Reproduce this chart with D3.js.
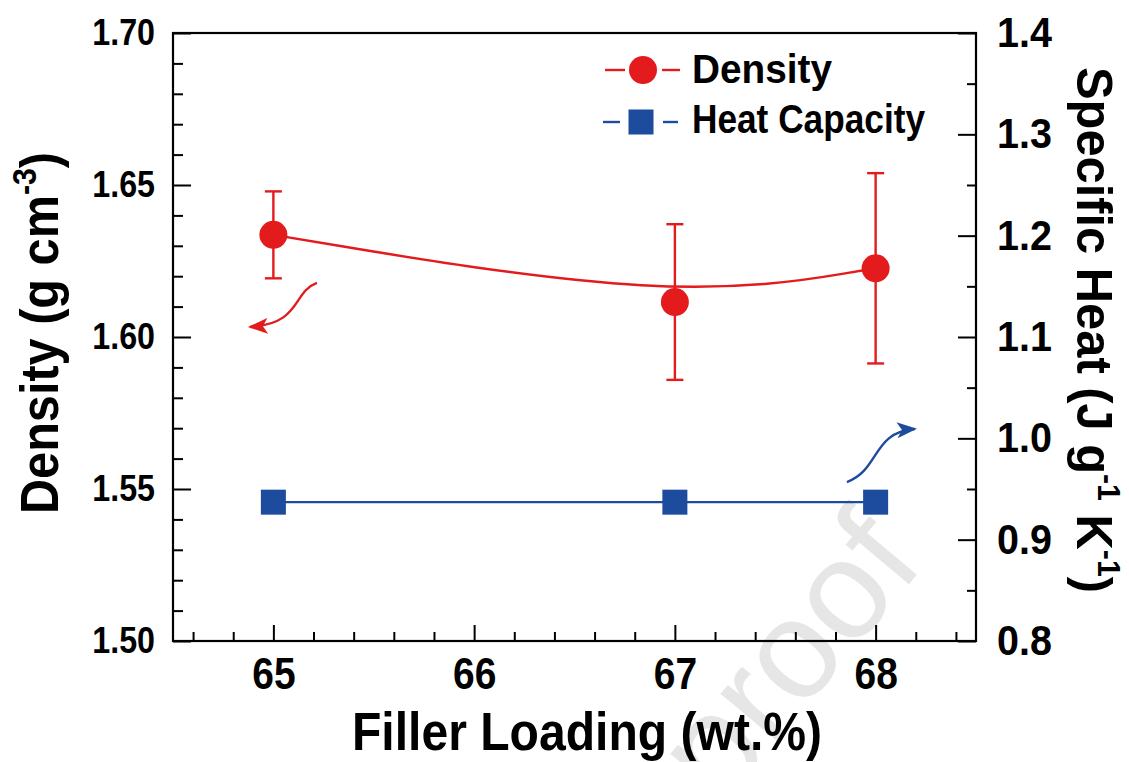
<!DOCTYPE html>
<html>
<head>
<meta charset="utf-8">
<script src="https://cdn.jsdelivr.net/npm/d3@7"></script>
<style>
  html, body { margin: 0; padding: 0; background: #fff; }
  svg { display: block; font-family: "Liberation Sans", Arial, Helvetica, sans-serif; }
</style>
</head>
<body>
<svg id="chart" width="1129" height="762"></svg>
<script>
// Filler loading (wt.%) of the three measured compositions
const fillerLoading = [65, 67, 68];
// Density (g cm^-3) with its standard deviation
const density = [1.6336, 1.6115, 1.6226];
const densityErr = [0.0143, 0.0256, 0.0313];
// Specific heat (J g^-1 K^-1)
const heatCapacity = [0.937, 0.937, 0.937];

// Axis ticks
const xMajorTicks = [65, 66, 67, 68];
const yLeftTicks = [1.50, 1.55, 1.60, 1.65, 1.70];
const yRightTicks = [0.8, 0.9, 1.0, 1.1, 1.2, 1.3, 1.4];

// Curved pointer arrows (cubic Bézier control points, in data units)
const densityArrow = [[65.217, 1.6178], [65.093, 1.6148], [65.142, 1.6043], [64.883, 1.6033]];
const heatArrow = [[67.857, 0.9569], [68.022, 0.9688], [67.982, 1.0063], [68.196, 1.0092]];

const RED = "#e31b1d";
const BLUE = "#1d4c9e";

const svg = d3.select("#chart");
const plotLeft = 173, plotRight = 976, plotTop = 33, plotBottom = 641;

const x = d3.scaleLinear().domain([64.5, 68.5]).range([plotLeft, plotRight]);
const yL = d3.scaleLinear().domain([1.50, 1.70]).range([plotBottom, plotTop]);
const yR = d3.scaleLinear().domain([0.8, 1.4]).range([plotBottom, plotTop]);

// Horizontal compression of the bold lettering
function squeeze(sel, f) {
  sel.each(function () {
    const w = this.getComputedTextLength();
    this.setAttribute("textLength", (w * f).toFixed(1));
    this.setAttribute("lengthAdjust", "spacingAndGlyphs");
  });
}
function fitTo(sel, width) {
  sel.attr("textLength", width).attr("lengthAdjust", "spacingAndGlyphs");
}

// Faint diagonal watermark behind everything
svg.append("text")
  .attr("transform", "translate(926,564) rotate(-50)")
  .attr("text-anchor", "end")
  .attr("font-size", 140)
  .attr("fill", "#e6e6e6")
  .text("proof");

// Minor ticks
const xMinor = d3.range(64.6, 68.41, 0.2).filter(v => Math.abs(v - Math.round(v)) > 0.01);
const yLMinor = d3.range(1.50, 1.7001, 0.01).filter(v => Math.abs(v * 20 - Math.round(v * 20)) > 0.01);
const yRMinor = d3.range(0.8, 1.4001, 0.05).filter(v => Math.abs(v * 10 - Math.round(v * 10)) > 0.01);

function noDomain(g) { g.select(".domain").remove(); }

svg.append("g").attr("transform", `translate(0,${plotBottom})`)
  .call(d3.axisBottom(x).tickValues(xMinor).tickSize(-9).tickFormat(""))
  .call(noDomain);
svg.append("g").attr("transform", `translate(${plotLeft},0)`)
  .call(d3.axisLeft(yL).tickValues(yLMinor).tickSize(-10).tickFormat(""))
  .call(noDomain);
svg.append("g").attr("transform", `translate(${plotRight},0)`)
  .call(d3.axisRight(yR).tickValues(yRMinor).tickSize(-9).tickFormat(""))
  .call(noDomain);

// Major ticks with labels
const gx = svg.append("g").attr("transform", `translate(0,${plotBottom})`)
  .call(d3.axisBottom(x).tickValues(xMajorTicks).tickSize(-16).tickPadding(17).tickFormat(d3.format("d")))
  .call(noDomain);
const gyl = svg.append("g").attr("transform", `translate(${plotLeft},0)`)
  .call(d3.axisLeft(yL).tickValues(yLeftTicks).tickSize(-18).tickPadding(18).tickFormat(d3.format(".2f")))
  .call(noDomain);
const gyr = svg.append("g").attr("transform", `translate(${plotRight},0)`)
  .call(d3.axisRight(yR).tickValues(yRightTicks).tickSize(-18).tickPadding(21).tickFormat(d3.format(".1f")))
  .call(noDomain);

svg.selectAll(".tick line").attr("stroke", "#000").attr("stroke-width", 2);
gx.selectAll("text").attr("font-size", 44).attr("font-weight", "bold").attr("fill", "#000").call(squeeze, 0.885);
gyl.selectAll("text").attr("font-size", 37).attr("font-weight", "bold").attr("fill", "#000").call(squeeze, 0.87);
gyr.selectAll("text").attr("font-size", 42).attr("font-weight", "bold").attr("fill", "#000").call(squeeze, 0.94);

// Plot frame
svg.append("rect")
  .attr("x", plotLeft).attr("y", plotTop)
  .attr("width", plotRight - plotLeft).attr("height", plotBottom - plotTop)
  .attr("fill", "none").attr("stroke", "#000").attr("stroke-width", 2.2);

// Axis titles
svg.append("text")
  .attr("x", 587).attr("y", 750)
  .attr("text-anchor", "middle").attr("font-size", 53).attr("font-weight", "bold")
  .text("Filler Loading (wt.%)")
  .call(fitTo, 470);

const tl = svg.append("text")
  .attr("transform", "translate(58,333) rotate(-90)")
  .attr("text-anchor", "middle").attr("font-size", 53).attr("font-weight", "bold");
tl.append("tspan").text("Density (g cm");
tl.append("tspan").attr("font-size", 33).attr("dy", -22).text("-3");
tl.append("tspan").attr("dy", 22).text(")");
tl.call(fitTo, 362);

const tr = svg.append("text")
  .attr("transform", "translate(1077,330) rotate(90)")
  .attr("text-anchor", "middle").attr("font-size", 50).attr("font-weight", "bold");
tr.append("tspan").text("Specific Heat (J g");
tr.append("tspan").attr("font-size", 31).attr("dy", -21).text("-1");
tr.append("tspan").attr("dy", 21).text(" K");
tr.append("tspan").attr("font-size", 31).attr("dy", -21).text("-1");
tr.append("tspan").attr("dy", 21).text(")");
tr.call(fitTo, 526);

// Arrowhead markers
const defs = svg.append("defs");
[["headRed", RED], ["headBlue", BLUE]].forEach(([id, c]) => {
  defs.append("marker")
    .attr("id", id).attr("markerUnits", "userSpaceOnUse")
    .attr("viewBox", "0 0 20 16").attr("markerWidth", 20).attr("markerHeight", 16)
    .attr("refX", 18).attr("refY", 8).attr("orient", "auto")
    .append("path").attr("d", "M0,0 L20,8 L0,16 L5,8 Z").attr("fill", c);
});

function bezier(pts, sx, sy) {
  const p = d3.path();
  p.moveTo(sx(pts[0][0]), sy(pts[0][1]));
  p.bezierCurveTo(sx(pts[1][0]), sy(pts[1][1]), sx(pts[2][0]), sy(pts[2][1]), sx(pts[3][0]), sy(pts[3][1]));
  return p.toString();
}
svg.append("path").attr("d", bezier(densityArrow, x, yL))
  .attr("fill", "none").attr("stroke", RED).attr("stroke-width", 2.4).attr("marker-end", "url(#headRed)");
svg.append("path").attr("d", bezier(heatArrow, x, yR))
  .attr("fill", "none").attr("stroke", BLUE).attr("stroke-width", 2.4).attr("marker-end", "url(#headBlue)");

// Heat capacity series
const heatData = fillerLoading.map((f, i) => ({ f, v: heatCapacity[i] }));
svg.append("path").datum(heatData)
  .attr("d", d3.line().x(d => x(d.f)).y(d => yR(d.v)))
  .attr("fill", "none").attr("stroke", BLUE).attr("stroke-width", 2.4);
svg.selectAll("rect.hc").data(heatData).join("rect").attr("class", "hc")
  .attr("x", d => x(d.f) - 12.5).attr("y", d => yR(d.v) - 12.5)
  .attr("width", 25).attr("height", 25).attr("fill", BLUE);

// Density series: smoothed trend, error bars, markers
const densData = fillerLoading.map((f, i) => ({ f, v: density[i], e: densityErr[i] }));
svg.append("path").datum(densData)
  .attr("d", d3.line().curve(d3.curveBasis).x(d => x(d.f)).y(d => yL(d.v)))
  .attr("fill", "none").attr("stroke", RED).attr("stroke-width", 2.4);
const eb = svg.selectAll("g.eb").data(densData).join("g").attr("class", "eb")
  .attr("stroke", RED).attr("stroke-width", 2.4);
eb.append("line").attr("x1", d => x(d.f)).attr("x2", d => x(d.f))
  .attr("y1", d => yL(d.v + d.e)).attr("y2", d => yL(d.v - d.e));
eb.append("line").attr("x1", d => x(d.f) - 8.5).attr("x2", d => x(d.f) + 8.5)
  .attr("y1", d => yL(d.v + d.e)).attr("y2", d => yL(d.v + d.e));
eb.append("line").attr("x1", d => x(d.f) - 8.5).attr("x2", d => x(d.f) + 8.5)
  .attr("y1", d => yL(d.v - d.e)).attr("y2", d => yL(d.v - d.e));
svg.selectAll("circle.dn").data(densData).join("circle").attr("class", "dn")
  .attr("cx", d => x(d.f)).attr("cy", d => yL(d.v)).attr("r", 14).attr("fill", RED);

// Legend
const legend = svg.append("g");
const l1 = legend.append("g").attr("transform", "translate(643,70)");
l1.append("line").attr("x1", -38).attr("x2", -18).attr("stroke", RED).attr("stroke-width", 2.4);
l1.append("line").attr("x1", 19).attr("x2", 37).attr("stroke", RED).attr("stroke-width", 2.4);
l1.append("circle").attr("r", 14).attr("fill", RED);
legend.append("text").attr("x", 692).attr("y", 83)
  .attr("font-size", 40).attr("font-weight", "bold").text("Density").call(fitTo, 140);

const l2 = legend.append("g").attr("transform", "translate(641,122)");
l2.append("line").attr("x1", -38).attr("x2", -21).attr("stroke", BLUE).attr("stroke-width", 2.4);
l2.append("line").attr("x1", 22).attr("x2", 37).attr("stroke", BLUE).attr("stroke-width", 2.4);
l2.append("rect").attr("x", -12.5).attr("y", -12.5).attr("width", 25).attr("height", 25).attr("fill", BLUE);
legend.append("text").attr("x", 692).attr("y", 133)
  .attr("font-size", 40).attr("font-weight", "bold").text("Heat Capacity").call(fitTo, 233);
</script>
</body>
</html>
